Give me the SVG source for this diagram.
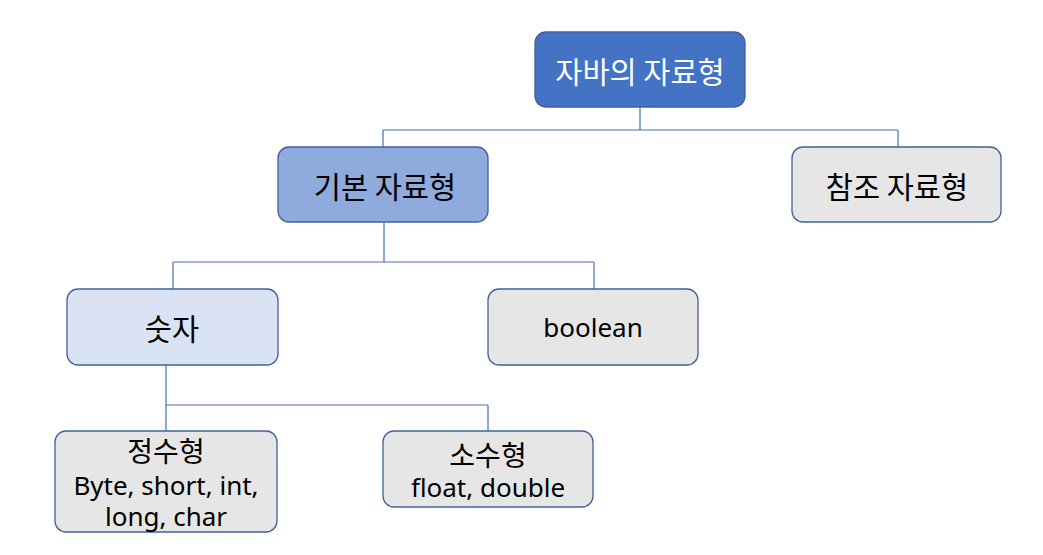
<svg xmlns="http://www.w3.org/2000/svg" width="1043" height="555" viewBox="0 0 1043 555">
<style>
.box{stroke:#42619b;stroke-width:1.3}
.t{font-family:"Noto Sans","Noto Sans CJK KR",sans-serif;font-size:26px;fill:#000;text-anchor:middle;dominant-baseline:central}
.k{font-family:"Noto Sans CJK KR","Noto Sans",sans-serif;font-size:29.5px}
.s{font-family:"Noto Sans CJK KR","Noto Sans",sans-serif;font-size:28px}
.w{fill:#fff}
.c{fill:none;stroke:#4a6fb8;stroke-width:1.2}
</style>
<rect width="1043" height="555" fill="#fff"/>
<g id="connectors">
<path class="c" d="M640 107V130M383 130H898M383 130V147M898 130V147"/>
<path class="c" d="M384 222V262M173 262H594M173 262V289M594 262V289"/>
<path class="c" d="M166 365V405M166 405H488M166 405V431M488 405V431"/>
</g>
<g id="root"><rect class="box" x="535" y="32" width="210" height="75" rx="11" fill="#4472C4" stroke="#2F528F"/><text class="t k w" x="640" y="70">자바의 자료형</text></g>
<g id="basic"><rect class="box" x="278" y="147" width="210" height="75" rx="11" fill="#8FAADC"/><text class="t k" x="385" y="185">기본 자료형</text></g>
<g id="ref"><rect class="box" x="792" y="147" width="209" height="75" rx="11" fill="#E7E6E6"/><text class="t k" x="897" y="185">참조 자료형</text></g>
<g id="number"><rect class="box" x="67" y="289" width="211" height="76" rx="11" fill="#DAE3F3"/><text class="t k" x="172" y="327">숫자</text></g>
<g id="boolean"><rect class="box" x="488" y="289" width="210" height="76" rx="11" fill="#E7E6E6"/><text class="t" x="593" y="327">boolean</text></g>
<g id="int"><rect class="box" x="55" y="431" width="222" height="101" rx="11" fill="#E7E6E6"/><text class="t"><tspan class="s" x="166" y="450">정수형</tspan><tspan x="166" y="485">Byte, short, int,</tspan><tspan x="166" y="516">long, char</tspan></text></g>
<g id="float"><rect class="box" x="383" y="431" width="210" height="76" rx="11" fill="#E7E6E6"/><text class="t"><tspan class="s" x="488" y="454">소수형</tspan><tspan x="488" y="487">float, double</tspan></text></g>
</svg>
